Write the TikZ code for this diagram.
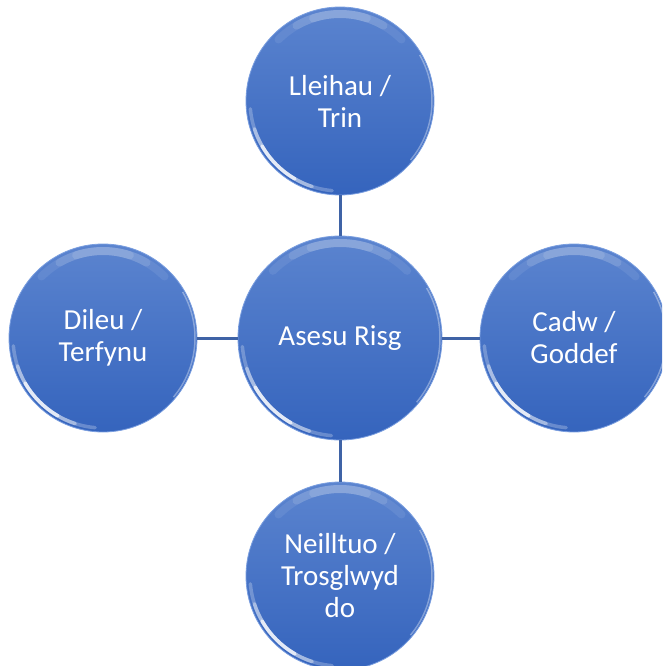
\documentclass[tikz,border=0pt]{standalone}
\usepackage{fontspec}
\setmainfont{Carlito}
\definecolor{balltop}{HTML}{5B84CF}
\definecolor{ballbot}{HTML}{3564BD}
\definecolor{ballrim}{HTML}{7A9EDF}
\definecolor{linkblue}{HTML}{3F63A6}
\tikzset{
 ball/.style={circle,inner sep=0pt,minimum size=#1,top color=balltop,bottom color=ballbot,
  draw=ballrim,line width=0.8pt,text=white,align=center,font=\fontsize{29}{32}\selectfont,
  path picture={
   % bevel glow, lower left
   \foreach \a/\b/\o in {185/265/0.25,198/252/0.4,210/240/0.7}
    \draw[white,opacity=\o,line width=3.5pt,line cap=round]
     ([shift={(\a:#1/2-4pt)}]path picture bounding box.center) arc[start angle=\a,end angle=\b,radius=#1/2-4pt];
   % soft band along the top
   \foreach \a/\b/\o in {45/135/0.08,60/120/0.12,72/108/0.12}
    \draw[white,opacity=\o,line width=8pt,line cap=round]
     ([shift={(\a:#1/2-7pt)}]path picture bounding box.center) arc[start angle=\a,end angle=\b,radius=#1/2-7pt];
   % thin light rim on the right
   \draw[white,opacity=0.35,line width=1.5pt]
    ([shift={(-40:#1/2-2pt)}]path picture bounding box.center) arc[start angle=-40,end angle=30,radius=#1/2-2pt];
  }},
 link/.style={draw=linkblue,line width=3pt}
}
\begin{document}
\begin{tikzpicture}[x=1pt,y=1pt]
 \useasboundingbox (0,0) rectangle (662,-666);
 \clip (0,0) rectangle (662,-666);
 \node[ball=204pt] (hub) at (340,-338) {Asesu Risg};
 \node[ball=188pt] (lleihau) at (340,-101) {Lleihau /\\Trin};
 \node[ball=188pt] (dileu) at (103,-338) {Dileu /\\Terfynu};
 \node[ball=188pt] (cadw) at (574,-338) {Cadw /\\Goddef};
 \node[ball=188pt] (neilltuo) at (340,-576) {Neilltuo /\\Trosglwyd\\do};
 \draw[link] (hub) -- (lleihau);
 \draw[link] (hub) -- (dileu);
 \draw[link] (hub) -- (cadw);
 \draw[link] (hub) -- (neilltuo);
\end{tikzpicture}
\end{document}
